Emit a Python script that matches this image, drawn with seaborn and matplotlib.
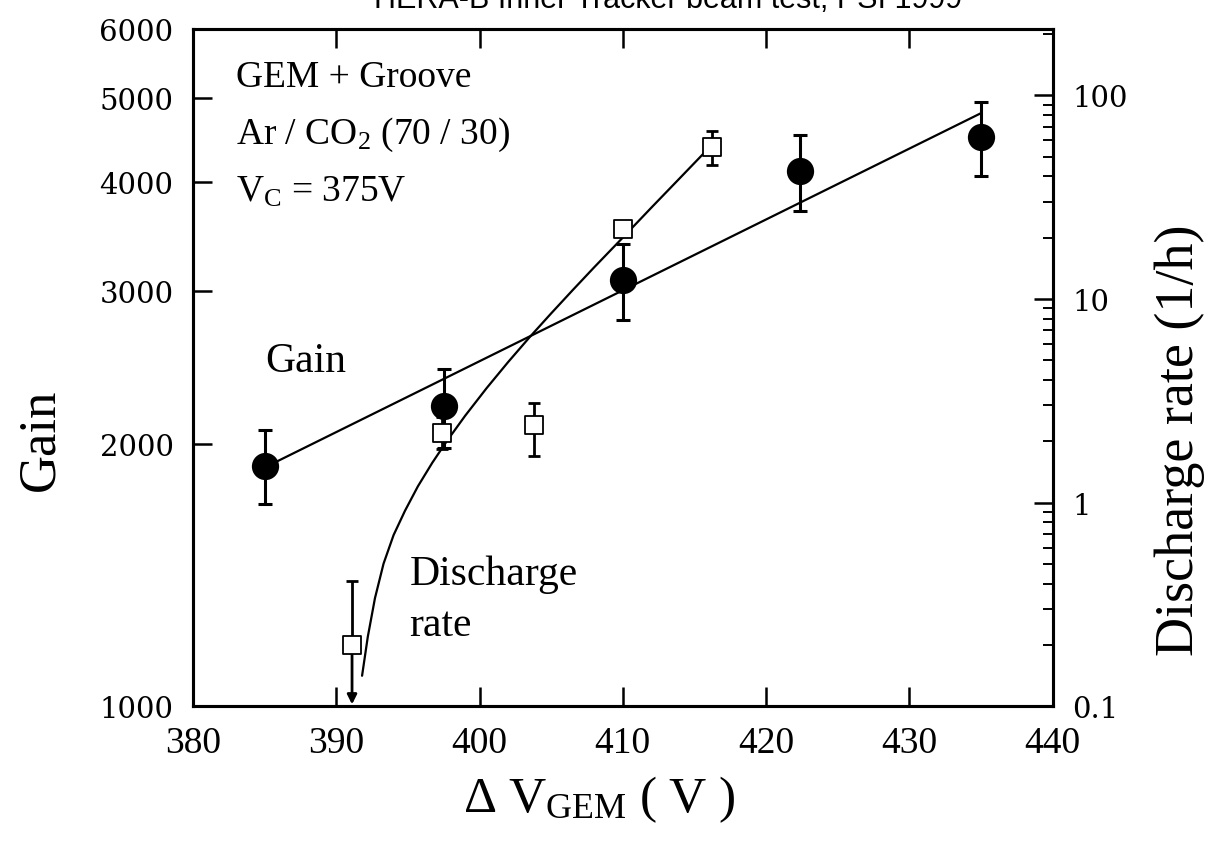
import matplotlib
matplotlib.use("Agg")
import matplotlib.pyplot as plt
from matplotlib.ticker import FixedLocator, FixedFormatter, NullLocator, LogLocator, NullFormatter
import seaborn as sns

# Gain measurements (filled circles)
gain_v = [385.0, 397.5, 410.0, 422.4, 435.0]
gain = [1890, 2210, 3090, 4120, 4510]
gain_err = [185, 230, 310, 410, 440]

# Exponential fit to the gain (straight on the log axis)
gain_fit_v = [385.0, 435.0]
gain_fit = [1880, 4800]

# Discharge rate measurements (open squares)
dis_v = [391.1, 397.4, 403.8, 410.0, 416.2]
dis = [0.20, 2.19, 2.40, 22.0, 56.0]
dis_err_lo = [0.0, 0.36, 0.71, 0.0, 10.4]
dis_err_hi = [0.21, 0.45, 0.67, 0.0, 10.8]

# Fitted discharge-rate curve
dis_fit_v = [391.8, 392.2, 392.7, 393.3, 394.0, 394.8, 395.7, 396.7, 397.7,
             399.0, 400.5, 402.0, 403.5, 405.0, 406.5, 408.0, 410.0, 412.0,
             414.0, 416.2]
dis_fit = [0.141, 0.219, 0.339, 0.501, 0.692, 0.912, 1.202, 1.567, 1.995,
           2.67, 3.65, 4.90, 6.49, 8.49, 11.04, 14.29, 20.0, 28.1,
           39.3, 56.9]

x_ticks = [380, 390, 400, 410, 420, 430, 440]
gain_ticks = [1000, 2000, 3000, 4000, 5000, 6000]
rate_ticks = [0.1, 1, 10, 100]
rate_tick_labels = ["0.1", "1", "10", "100"]

sns.set_style("ticks")
plt.rcParams["font.family"] = ["Liberation Serif", "DejaVu Serif"]
plt.rcParams["mathtext.fontset"] = "custom"
plt.rcParams["mathtext.rm"] = "Liberation Serif"
plt.rcParams["mathtext.it"] = "Liberation Serif:italic"
for key in ("text.color", "axes.labelcolor", "xtick.color", "ytick.color",
            "axes.edgecolor"):
    plt.rcParams[key] = "black"

fig = plt.figure(figsize=(12.14, 8.53), dpi=100)
ax = fig.add_axes([0.159, 0.171, 0.708, 0.794])
ax2 = ax.twinx()

black = "#000000"

# --- gain (left axis) ---
ax.set_yscale("log")
sns.lineplot(x=gain_fit_v, y=gain_fit, ax=ax, color=black, lw=1.6, zorder=3)
ax.errorbar(gain_v, gain, yerr=gain_err, fmt="none", ecolor=black,
            elinewidth=2.2, capsize=5, capthick=2.2, zorder=4)
sns.scatterplot(x=gain_v, y=gain, ax=ax, color=black, s=330, marker="o",
                edgecolor=black, zorder=5)

# --- discharge rate (right axis) ---
ax2.set_yscale("log")
sns.lineplot(x=dis_fit_v, y=dis_fit, ax=ax2, color=black, lw=1.6, zorder=3)
ax2.errorbar(dis_v, dis, yerr=[dis_err_lo, dis_err_hi], fmt="none",
             ecolor=black, elinewidth=2.0, capsize=4.5, capthick=2.0, zorder=4)
sns.scatterplot(x=dis_v, y=dis, ax=ax2, color="white", s=150, marker="s",
                edgecolor=black, linewidth=1.3, zorder=5)
# upper-limit arrow on the lowest-voltage point
ax2.annotate("", xy=(dis_v[0], 0.102), xytext=(dis_v[0], dis[0]),
             arrowprops=dict(arrowstyle="-|>", color=black, lw=2.0,
                             mutation_scale=14, shrinkA=6, shrinkB=0),
             zorder=4)

# --- axes ---
ax.set_xlim(380, 440)
ax.set_ylim(1000, 6000)
ax2.set_ylim(0.1, 212)

ax.xaxis.set_major_locator(FixedLocator(x_ticks))
ax.set_xticklabels([str(t) for t in x_ticks])
ax.yaxis.set_major_locator(FixedLocator(gain_ticks))
ax.yaxis.set_major_formatter(FixedFormatter([str(t) for t in gain_ticks]))
ax.yaxis.set_minor_locator(NullLocator())

ax2.yaxis.set_major_locator(FixedLocator(rate_ticks))
ax2.yaxis.set_major_formatter(FixedFormatter(rate_tick_labels))
ax2.yaxis.set_minor_locator(LogLocator(base=10, subs=range(2, 10)))
ax2.yaxis.set_minor_formatter(NullFormatter())

for a in (ax, ax2):
    for s in a.spines.values():
        s.set_linewidth(2.2)
        s.set_color(black)
        s.set_visible(True)

ax.tick_params(axis="x", which="major", direction="in", length=14, width=1.8,
               top=True, pad=14, labelsize=27, colors=black)
ax.tick_params(axis="y", which="major", direction="in", length=14, width=1.8,
               pad=14, labelsize=21, colors=black)
ax2.tick_params(axis="y", which="major", direction="in", length=14, width=1.8,
                pad=14, labelsize=21, colors=black)
ax2.tick_params(axis="y", which="minor", direction="in", length=7, width=1.4,
                colors=black)
for lab in ax.get_yticklabels() + ax2.get_yticklabels():
    lab.set_fontfamily("DejaVu Serif")

ax.set_xlabel(r"$\Delta\ \mathrm{V}_{\mathrm{GEM}}\ (\ \mathrm{V}\ )$",
              fontsize=37, va="center", ha="center", color=black)
ax.xaxis.set_label_coords(0.473, -0.137)
ax.set_ylabel("Gain", fontsize=38, va="center", ha="center", color=black)
ax.yaxis.set_label_coords(-0.178, 0.394)
ax2.set_ylabel("Discharge rate (1/h)", fontsize=39, va="center", ha="center",
               color=black)
ax2.yaxis.set_label_coords(1.148, 0.394)

# --- annotations ---
ax.text(0.05, 0.93, "GEM + Groove", transform=ax.transAxes, fontsize=27,
        va="center", ha="left")
ax.text(0.05, 0.845, r"Ar / CO$_2$ (70 / 30)", transform=ax.transAxes,
        fontsize=27, va="center", ha="left")
ax.text(0.05, 0.76, r"V$_{\mathrm{C}}$ = 375V", transform=ax.transAxes,
        fontsize=27, va="center", ha="left")
ax.text(0.084, 0.51, "Gain", transform=ax.transAxes, fontsize=30,
        va="center", ha="left")
ax.text(0.252, 0.158, "Discharge\nrate", transform=ax.transAxes, fontsize=30,
        va="center", ha="left", linespacing=1.4)

fig.text(0.55, 1.0, "HERA-B Inner Tracker beam test, PSI 1999",
         fontsize=22, family="Liberation Sans", ha="center", va="center")

fig.savefig("out.png", dpi=100)
